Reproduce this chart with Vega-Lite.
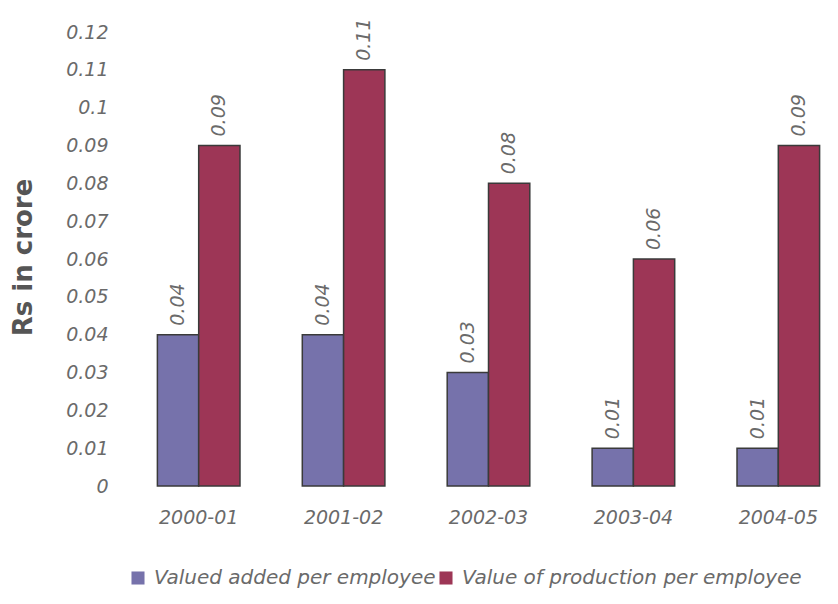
{
  "$schema": "https://vega.github.io/schema/vega-lite/v6.json",
  "width": 697,
  "height": 454,
  "autosize": {"type": "none"},
  "padding": {"left": 140, "top": 32, "right": 1, "bottom": 118},
  "background": "white",
  "config": {
    "view": {"stroke": null},
    "font": "DejaVu Sans"
  },
  "data": {
    "values": [
      {"year": "2000-01", "series": "Valued added per employee", "value": 0.04},
      {"year": "2000-01", "series": "Value of production per employee", "value": 0.09},
      {"year": "2001-02", "series": "Valued added per employee", "value": 0.04},
      {"year": "2001-02", "series": "Value of production per employee", "value": 0.11},
      {"year": "2002-03", "series": "Valued added per employee", "value": 0.03},
      {"year": "2002-03", "series": "Value of production per employee", "value": 0.08},
      {"year": "2003-04", "series": "Valued added per employee", "value": 0.01},
      {"year": "2003-04", "series": "Value of production per employee", "value": 0.06},
      {"year": "2004-05", "series": "Valued added per employee", "value": 0.01},
      {"year": "2004-05", "series": "Value of production per employee", "value": 0.09}
    ]
  },
  "encoding": {
    "x": {
      "field": "year",
      "type": "nominal",
      "scale": {"paddingInner": 0.43, "paddingOuter": 0.12},
      "axis": {
        "title": null,
        "labelAngle": 0,
        "domain": false,
        "ticks": false,
        "labelPadding": 22,
        "labelFont": "DejaVu Sans",
        "labelFontSize": 19,
        "labelFontStyle": "italic",
        "labelColor": "#6a6a6a"
      }
    },
    "xOffset": {
      "field": "series",
      "type": "nominal",
      "sort": ["Valued added per employee", "Value of production per employee"],
      "scale": {"paddingInner": 0, "paddingOuter": 0}
    },
    "y": {
      "field": "value",
      "type": "quantitative",
      "scale": {"domain": [0, 0.12], "nice": false},
      "axis": {
        "title": "Rs in crore",
        "titleFont": "DejaVu Sans",
        "titleFontSize": 26,
        "titleFontWeight": "bold",
        "titleColor": "#555555",
        "titleX": -117,
        "titleY": 225,
        "titleBaseline": "middle",
        "values": [0, 0.01, 0.02, 0.03, 0.04, 0.05, 0.06, 0.07, 0.08, 0.09, 0.1, 0.11, 0.12],
        "format": ".2~f",
        "grid": false,
        "domain": false,
        "ticks": false,
        "labelPadding": 32,
        "labelFont": "DejaVu Sans",
        "labelFontSize": 19,
        "labelFontStyle": "italic",
        "labelColor": "#6a6a6a"
      }
    }
  },
  "layer": [
    {
      "mark": {"type": "bar", "stroke": "#3a3a3a", "strokeWidth": 1.5},
      "encoding": {
        "color": {
          "field": "series",
          "type": "nominal",
          "scale": {
            "domain": ["Valued added per employee", "Value of production per employee"],
            "range": ["#7672ab", "#9d3656"]
          },
          "legend": {
            "title": null,
            "orient": "none",
            "direction": "horizontal",
            "legendX": -12,
            "legendY": 536,
            "symbolType": "square",
            "symbolSize": 170,
            "symbolStrokeWidth": 0,
            "columnPadding": 0,
            "labelFont": "DejaVu Sans",
            "labelFontSize": 20,
            "labelFontStyle": "italic",
            "labelColor": "#6a6a6a",
            "labelOffset": 6,
            "labelLimit": 400
          }
        }
      }
    },
    {
      "mark": {
        "type": "text",
        "angle": -90,
        "align": "left",
        "baseline": "middle",
        "dx": 9,
        "font": "DejaVu Sans",
        "fontSize": 19,
        "fontStyle": "italic",
        "color": "#6a6a6a"
      },
      "encoding": {
        "text": {"field": "value", "type": "quantitative", "format": ".2f"}
      }
    }
  ]
}
